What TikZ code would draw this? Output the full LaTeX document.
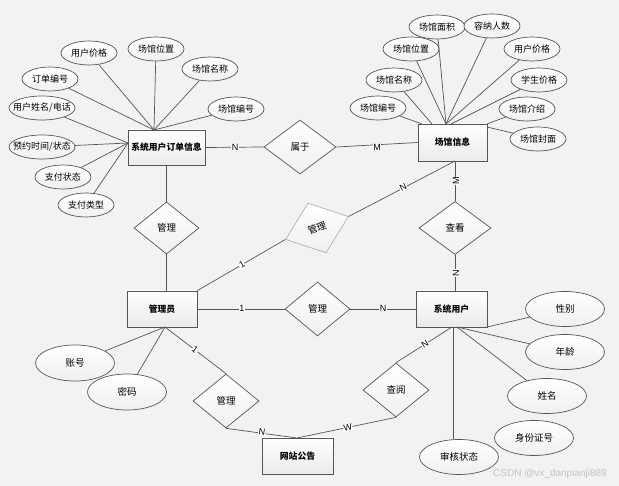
\documentclass[tikz,border=0pt]{standalone}
\usepackage{fontspec}
\setmainfont{Liberation Sans}
\newfontfamily\cjk{Noto Sans CJK SC}
\usetikzlibrary{shapes.geometric,shadows}
\definecolor{bg}{HTML}{F2F2F2}
\definecolor{ln}{HTML}{555555}
\definecolor{wm}{HTML}{C4C4C4}
\tikzset{
  zb/.style={execute at begin node={\hbox to 0pt\bgroup\hss}, execute at end node={\hss\egroup}},
  ent/.style={draw=ln, line width=0.8pt, rectangle, inner sep=0pt, top color=white, bottom color=black!8,
    drop shadow={shadow xshift=1.2pt, shadow yshift=-1.2pt, fill=black!30, opacity=1},
    font=\cjk\bfseries\fontsize{8.8}{10}\selectfont},
  attr/.style={draw=ln, line width=0.7pt, ellipse, inner sep=0pt, zb, minimum width=56pt, minimum height=24pt,
    top color=white, bottom color=black!6, font=\cjk\fontsize{9}{10}\selectfont},
  bigattr/.style={attr, minimum width=79pt, minimum height=35pt, font=\cjk\fontsize{9.5}{10}\selectfont},
  rel/.style={draw=ln, line width=0.7pt, diamond, inner sep=0pt, minimum width=66pt, minimum height=53pt,
    top color=white, bottom color=black!6, font=\cjk\fontsize{9.5}{10}\selectfont},
  conn/.style={draw=ln, line width=0.7pt},
  card/.style={fill=white, inner sep=0.4pt, font=\fontsize{9}{10}\selectfont},
}
\begin{document}
\begin{tikzpicture}[x=1pt,y=-1pt]
\fill[bg] (0,0) rectangle (619,486);
\useasboundingbox (0,0) rectangle (619,486);

% entities
\node[ent, minimum width=77pt, minimum height=35pt] (orders) at (166.5,147.5) {系统用户订单信息};
\node[ent, minimum width=69pt, minimum height=37pt] (venue) at (452.5,142.5) {场馆信息};
\node[ent, minimum width=70pt, minimum height=36pt] (admin) at (162,309) {管理员};
\node[ent, minimum width=71pt, minimum height=36pt] (user) at (451.5,309) {系统用户};
\node[ent, minimum width=71pt, minimum height=36pt] (notice) at (297.5,456) {网站公告};

% relationships
\node[rel, minimum width=72pt, minimum height=54pt] (shuyu) at (300,147) {属于};
\node[rel, minimum width=65pt, minimum height=52pt] (gl1) at (166.5,228) {管理};
\node[rel, draw=black!30, minimum width=67pt, minimum height=53pt, rotate=20] (gl2) at (317,228) {管理};
\node[rel, minimum width=72pt, minimum height=53pt] (chakan) at (455,228) {查看};
\node[rel, minimum width=65pt, minimum height=54pt] (gl3) at (317.5,309) {管理};
\node[rel, minimum width=66pt, minimum height=54pt] (gl4) at (226,401) {管理};
\node[rel, minimum width=66pt, minimum height=54pt] (chayue) at (396,390) {查阅};

% order attributes
\node[attr] (o1) at (89,53) {用户价格};
\node[attr] (o2) at (156,49) {场馆位置};
\node[attr] (o3) at (210,69) {场馆名称};
\node[attr] (o4) at (50,79) {订单编号};
\node[attr] (o5) at (236,109) {场馆编号};
\node[attr, minimum width=66pt] (o6) at (42,108) {用户姓名/电话};
\node[attr, minimum width=66pt] (o7) at (42,147) {预约时间/状态};
\node[attr] (o8) at (63,177) {支付状态};
\node[attr] (o9) at (86,205) {支付类型};

% venue attributes
\node[attr] (v1) at (437,27) {场馆面积};
\node[attr] (v2) at (492,26) {容纳人数};
\node[attr] (v3) at (411,49) {场馆位置};
\node[attr] (v4) at (532,49) {用户价格};
\node[attr] (v5) at (394,80) {场馆名称};
\node[attr] (v6) at (539,80) {学生价格};
\node[attr] (v7) at (378,108) {场馆编号};
\node[attr] (v8) at (527,109) {场馆介绍};
\node[attr] (v9) at (538,139) {场馆封面};

% user attributes
\node[bigattr] (u1) at (565,309) {性别};
\node[bigattr] (u2) at (565,352) {年龄};
\node[bigattr] (u3) at (547,396) {姓名};
\node[bigattr] (u4) at (534,438) {身份证号};
\node[bigattr] (u5) at (459,457) {审核状态};

% admin attributes
\node[bigattr, minimum height=36pt] (g1) at (75,363) {账号};
\node[bigattr, minimum height=36pt] (g2) at (127,392) {密码};

% connection points
\coordinate (oT) at (154,130);
\coordinate (oL) at (128,143);
\coordinate (vA) at (422,124);
\coordinate (vB2) at (432,124);
\coordinate (vC) at (446,124);
\coordinate (vD) at (451,124);
\coordinate (vE) at (487,124);
\coordinate (vF) at (487,127);
\coordinate (vB) at (455,161);
\coordinate (uT) at (455,291);
\coordinate (uC) at (487,327);
\coordinate (uM) at (457,327);
\coordinate (uS) at (453,327);
\coordinate (uN) at (452,327);
\coordinate (aB) at (165,327);
\coordinate (nT) at (297,438);

% attribute lines
\foreach \a in {o1,o2,o3,o4,o5} \draw[conn] (\a) -- (oT);
\foreach \a in {o6,o7,o8,o9} \draw[conn] (\a) -- (oL);
\draw[conn] (v7) -- (vA);
\draw[conn] (v5) -- (vB2);
\foreach \a in {v1,v2,v3,v4} \draw[conn] (\a) -- (vC);
\draw[conn] (v6) -- (vD);
\draw[conn] (v8) -- (vE);
\draw[conn] (v9) -- (vF);
\draw[conn] (u1) -- (uC);
\draw[conn] (u2) -- (uM);
\draw[conn] (u3) -- (uM);
\draw[conn] (uS) -- (uS |- u5.north);
\draw[conn] (g1) -- (aB);
\draw[conn] (g2) -- (aB);

% relationship lines
\draw[conn] (orders.east) -- (shuyu.west);
\draw[conn] (shuyu.east) -- (venue.west);
\draw[conn] (gl1.north) -- (gl1.north |- orders.south);
\draw[conn] (gl1.south) -- (gl1.south |- admin.north);
\draw[conn] (admin.north east) -- (gl2.west);
\draw[conn] (gl2.east) -- (vB);
\draw[conn] (vB) -- (chakan.north);
\draw[conn] (chakan.south) -- (uT);
\draw[conn] (admin.east) -- (gl3.west);
\draw[conn] (gl3.east) -- (user.west);
\draw[conn] (aB) -- (gl4.north);
\draw[conn] (gl4.south) -- (nT);
\draw[conn] (nT) -- (chayue.south);
\draw[conn] (chayue.north) -- (uN);

% cardinalities
\node[card] (c1) at (235,147) {N};
\node[card] (c2) at (377,147) {M};
\node[card, rotate=30] (c3) at (242,265) {1};
\node[card, rotate=27] (c4) at (403,187) {N};
\node[card, rotate=90] (c5) at (456,181) {M};
\node[card, rotate=90] (c6) at (456,273) {N};
\node[card] (c7) at (242,308) {1};
\node[card] (c8) at (383,308) {N};
\node[card, rotate=-37] (c9) at (195,350) {1};
\node[card, rotate=-8] (c10) at (262,432) {N};
\node[card, rotate=12] (c11) at (348,428) {W};
\node[card, rotate=32] (c12) at (425,344) {N};

% watermark
\node[text=wm, font=\fontsize{10}{10}\selectfont, inner sep=0pt] (wmk) at (550,474) {CSDN @vx\_danpianji889};
\end{tikzpicture}
\end{document}
